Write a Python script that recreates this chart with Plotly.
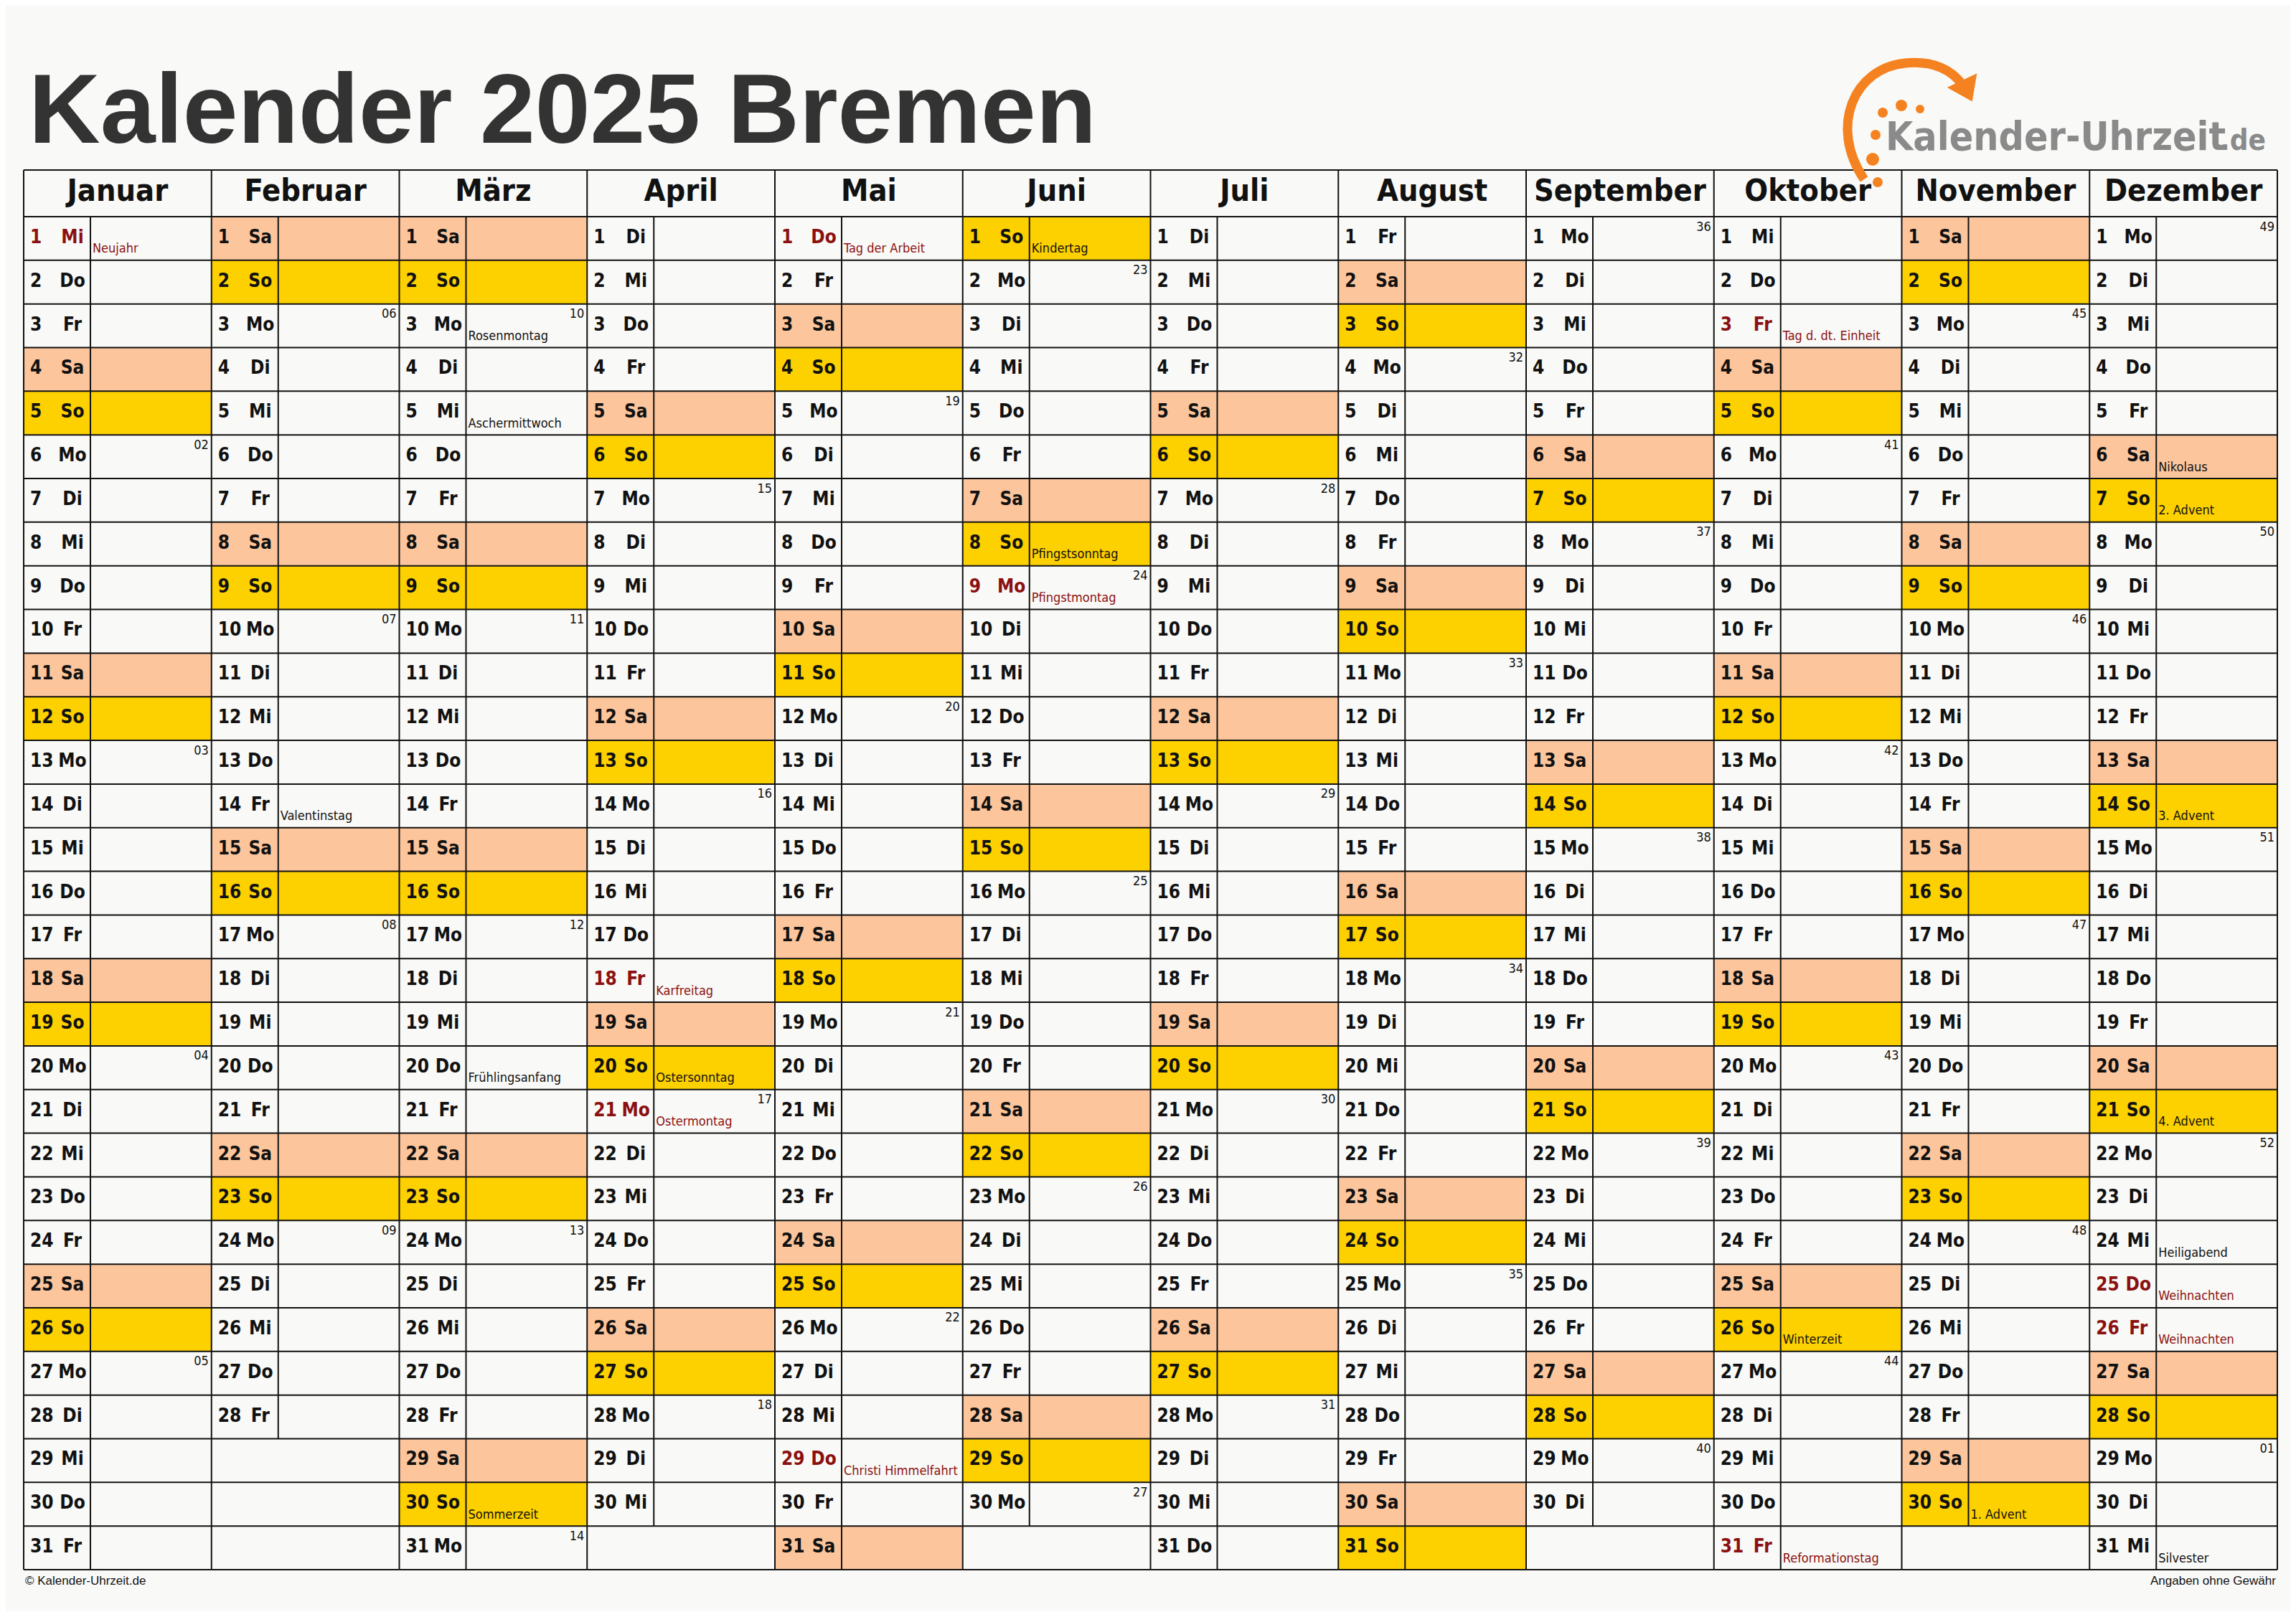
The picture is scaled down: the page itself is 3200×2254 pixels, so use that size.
import datetime as dt
import plotly.graph_objects as go

# ---- data ----
year = 2025
title = "Kalender 2025 Bremen"
months = ["Januar", "Februar", "März", "April", "Mai", "Juni", "Juli",
          "August", "September", "Oktober", "November", "Dezember"]
weekday_names = ["Mo", "Di", "Mi", "Do", "Fr", "Sa", "So"]

# official holidays (red)
holidays = {
    (1, 1): "Neujahr", (4, 18): "Karfreitag", (4, 21): "Ostermontag",
    (5, 1): "Tag der Arbeit", (5, 29): "Christi Himmelfahrt", (6, 9): "Pfingstmontag",
    (10, 3): "Tag d. dt. Einheit", (10, 31): "Reformationstag",
    (12, 25): "Weihnachten", (12, 26): "Weihnachten",
}
# other notable days (black)
special_days = {
    (2, 14): "Valentinstag", (3, 3): "Rosenmontag", (3, 5): "Aschermittwoch",
    (3, 20): "Frühlingsanfang", (3, 30): "Sommerzeit", (4, 20): "Ostersonntag",
    (6, 1): "Kindertag", (6, 8): "Pfingstsonntag", (10, 26): "Winterzeit",
    (11, 30): "1. Advent", (12, 6): "Nikolaus", (12, 7): "2. Advent",
    (12, 14): "3. Advent", (12, 21): "4. Advent", (12, 24): "Heiligabend",
    (12, 31): "Silvester",
}

# ---- layout constants (pixels) ----
W, H = 3200, 2254
PAD = 8  # page margin of the html body
LEFT, RIGHT = 33, 3174
HEAD_TOP, HEAD_BOT = 237, 302
BOTTOM = 2188
COLW = (RIGHT - LEFT) / 12
ROWH = (BOTTOM - HEAD_BOT) / 31
SPLIT = 93

BG = "#f9f9f7"
SAT = "#fcc59c"
SUN = "#fdd000"
RED = "#8b1010"
FONT = "DejaVu Sans Condensed, Liberation Sans Narrow, Arial Narrow, sans-serif"
LINE = dict(color="#111", width=2)

shapes = []
num = dict(x=[], y=[], t=[], c=[])
wd = dict(x=[], y=[], t=[], c=[])
hol = dict(x=[], y=[], t=[], c=[])
kw = dict(x=[], y=[], t=[])

for m in range(12):
    x0 = LEFT + m * COLW
    d = dt.date(year, m + 1, 1)
    while d.month == m + 1:
        r = d.day - 1
        y0 = HEAD_BOT + r * ROWH
        y1 = y0 + ROWH
        w = d.weekday()
        key = (d.month, d.day)
        if w in (5, 6):
            shapes.append(dict(type="rect", x0=x0, x1=x0 + COLW, y0=y0, y1=y1,
                               fillcolor=SAT if w == 5 else SUN, line_width=0, layer="below"))
        col = RED if key in holidays else "#111111"
        ym = (y0 + y1) / 2
        num["x"].append(x0 + 9); num["y"].append(ym); num["t"].append(str(d.day)); num["c"].append(col)
        wd["x"].append(x0 + 68); wd["y"].append(ym); wd["t"].append(weekday_names[w]); wd["c"].append(col)
        if key in holidays or key in special_days:
            hol["x"].append(x0 + SPLIT + 3); hol["y"].append(y1 - 6)
            hol["t"].append(holidays.get(key) or special_days[key])
            hol["c"].append(RED if key in holidays else "#111111")
        if w == 0:
            kw["x"].append(x0 + COLW - 4); kw["y"].append(y0 + 6)
            kw["t"].append("%02d" % d.isocalendar()[1])
        shapes.append(dict(type="line", x0=x0 + SPLIT, x1=x0 + SPLIT, y0=y0, y1=y1, line=LINE))
        d += dt.timedelta(days=1)
    for r in range(31):
        y1 = HEAD_BOT + (r + 1) * ROWH
        shapes.append(dict(type="line", x0=x0, x1=x0 + COLW, y0=y1, y1=y1, line=LINE))

# column lines and header lines
for m in range(13):
    x = LEFT + m * COLW
    shapes.append(dict(type="line", x0=x, x1=x, y0=HEAD_TOP, y1=BOTTOM, line=LINE))
for y in (HEAD_TOP, HEAD_BOT):
    shapes.append(dict(type="line", x0=LEFT, x1=RIGHT, y0=y, y1=y, line=LINE))

# logo arc and dots
ORANGE = "#f58220"
shapes.append(dict(type="path",
                   path="M 2598,250 C 2548,175 2585,95 2655,88 C 2695,84 2722,98 2736,120",
                   line=dict(color=ORANGE, width=13)))
shapes.append(dict(type="path", path="M 2716,122 L 2754,104 L 2748,140 Z",
                   fillcolor=ORANGE, line=dict(color=ORANGE, width=2)))
for cx, cy, rr in [(2624, 157, 7), (2650, 147, 8), (2676, 152, 6),
                   (2614, 188, 7), (2610, 222, 9), (2617, 254, 7)]:
    shapes.append(dict(type="circle", x0=cx - rr, x1=cx + rr, y0=cy - rr, y1=cy + rr,
                       fillcolor=ORANGE, line_width=0))

fig = go.Figure()
fig.add_trace(go.Scatter(x=num["x"], y=num["y"], text=num["t"], mode="text",
                         textposition="middle right",
                         textfont=dict(family=FONT, size=26, color=num["c"], weight="bold")))
fig.add_trace(go.Scatter(x=wd["x"], y=wd["y"], text=wd["t"], mode="text",
                         textposition="middle center",
                         textfont=dict(family=FONT, size=26, color=wd["c"], weight="bold")))
fig.add_trace(go.Scatter(x=hol["x"], y=hol["y"], text=hol["t"], mode="text",
                         textposition="top right",
                         textfont=dict(family=FONT, size=18, color=hol["c"])))
fig.add_trace(go.Scatter(x=kw["x"], y=kw["y"], text=kw["t"], mode="text",
                         textposition="bottom left",
                         textfont=dict(family=FONT, size=18, color="#111")))
fig.add_trace(go.Scatter(x=[LEFT + (m + 0.5) * COLW for m in range(12)],
                         y=[(HEAD_TOP + HEAD_BOT) / 2] * 12, text=months, mode="text",
                         textposition="middle center",
                         textfont=dict(family=FONT, size=43, color="#111", weight="bold")))

annotations = [
    dict(x=38, y=200, text=title, showarrow=False, xanchor="left", yanchor="bottom",
         yshift=-30, font=dict(family="Liberation Sans", size=138, color="#333", weight="bold")),
    dict(x=2626, y=212, text="Kalender-Uhrzeit", showarrow=False, xanchor="left", yanchor="bottom",
         yshift=-12, font=dict(family=FONT, size=55, color="#8a8a8a", weight="bold")),
    dict(x=3160, y=212, text=".de", showarrow=False, xanchor="right", yanchor="bottom",
         yshift=-8, font=dict(family=FONT, size=40, color="#8a8a8a", weight="bold")),
    dict(x=LEFT, y=2203, text="© Kalender-Uhrzeit.de", showarrow=False, xanchor="left",
         font=dict(family="Liberation Sans", size=17, color="#111")),
    dict(x=RIGHT, y=2203, text="Angaben ohne Gewähr", showarrow=False, xanchor="right",
         font=dict(family="Liberation Sans", size=17, color="#111")),
]

fig.update_layout(
    width=W - 2 * PAD, height=H - 2 * PAD, margin=dict(l=0, r=0, t=0, b=0),
    paper_bgcolor=BG, plot_bgcolor=BG, showlegend=False,
    shapes=shapes, annotations=annotations,
    xaxis=dict(range=[PAD, W - PAD], visible=False, fixedrange=True),
    yaxis=dict(range=[H - PAD, PAD], visible=False, fixedrange=True),
)
fig.write_html("out.html")
